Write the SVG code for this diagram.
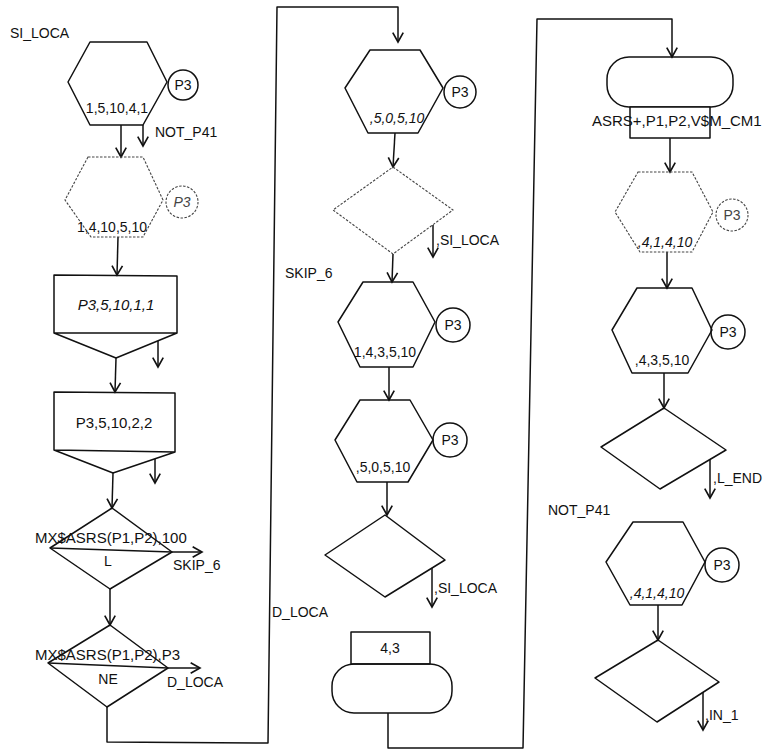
<svg xmlns="http://www.w3.org/2000/svg" width="772" height="754" viewBox="0 0 772 754">
<style>
  .s{fill:none;stroke:#111;stroke-width:1.5;stroke-linejoin:round}
  .d{fill:none;stroke:#444;stroke-width:1.1;stroke-dasharray:2.5 1.5}
  .w{fill:#fff}
  text{font-family:"Liberation Sans",Arial,sans-serif;font-size:14px;fill:#111}
  .m{text-anchor:middle}
  .i{font-style:italic}
  .g{fill:#444}
  .l{font-size:15px}
</style>
<defs>
  <marker id="a" markerUnits="userSpaceOnUse" markerWidth="14" markerHeight="14" refX="0" refY="0" viewBox="-10 -6 12 12" orient="auto">
    <path d="M-8,-4.5 L0,0 L-8,4.5" fill="none" stroke="#111" stroke-width="1.4"/>
  </marker>
</defs>
<rect width="772" height="754" fill="#fff"/>

<text x="10" y="38">SI_LOCA</text>
<text x="285" y="278">SKIP_6</text>
<text x="272" y="617">D_LOCA</text>
<text x="548" y="515">NOT_P41</text>

<g id="connectors" class="s" marker-end="url(#a)">
  <path d="M121,125 L121,157"/>
  <path d="M143,125 L143,146"/>
  <path d="M118,237 L117,275"/>
  <path d="M158,341 L158,367"/>
  <path d="M116,358 L115,392"/>
  <path d="M155,459 L155,483"/>
  <path d="M113,473 L112,508"/>
  <path d="M172,552 L202,552"/>
  <path d="M110,589 L110,625"/>
  <path d="M168,668 L200,668"/>
  <path d="M107,707 L107,742 L268,743 L277,7 L398,7 L398,42"/>
  <path d="M395,133 L393,167"/>
  <path d="M433,225 L433,257"/>
  <path d="M393,254 L392,282"/>
  <path d="M389,367 L389,400"/>
  <path d="M387,482 L387,515"/>
  <path d="M432,568 L432,607"/>
  <path d="M388,713 L388,748 L523,748 L537,19 L672,19 L672,57"/>
  <path d="M670,138 L670,172"/>
  <path d="M667,252 L667,288"/>
  <path d="M664,373 L664,408"/>
  <path d="M710,459 L710,498"/>
  <path d="M658,605 L658,640"/>
  <path d="M703,692 L703,730"/>
</g>
<g id="connector-labels">
  <text x="155" y="137">NOT_P41</text>
  <text x="173" y="570">SKIP_6</text>
  <text x="167" y="687">D_LOCA</text>
  <text x="436" y="245">,SI_LOCA</text>
  <text x="434" y="593">,SI_LOCA</text>
  <text x="713" y="483">,L_END</text>
  <text x="705" y="720">,IN_1</text>
</g>

<g id="hex1">
  <polygon class="s" points="90,42 147,42 167,82 143,125 90,125 68,82"/>
  <text class="m" x="117" y="113">1,5,10,4,1</text>
  <circle class="s" cx="183" cy="85" r="15"/>
  <text class="m" x="183" y="90">P3</text>
</g>
<g id="hex2">
  <polygon class="d" points="88,157 143,157 163,200 143,237 91,237 65,200"/>
  <text class="m" x="112" y="232">1,4,10,5,10</text>
  <circle class="d" cx="182" cy="202" r="16"/>
  <text class="m i g" x="182" y="207">P3</text>
</g>
<g id="box1">
  <path class="s" d="M54,275 L177,276 L177,333 L116,358 L54,333 Z M54,333 L177,333"/>
  <text class="m i l" x="116" y="310">P3,5,10,1,1</text>
</g>
<g id="box2">
  <path class="s" d="M54,392 L175,393 L175,452 L113,473 L54,450 Z M54,450 L175,452"/>
  <text class="m l" x="114" y="428">P3,5,10,2,2</text>
</g>
<g id="dec1">
  <polygon class="s" points="112,508 172,552 110,589 50,548"/>
  <path class="s" d="M50,548 L172,552"/>
  <text class="l" x="35" y="543">MX$ASRS(P1,P2),100</text>
  <text class="m" x="108" y="566">L</text>
</g>
<g id="dec2">
  <polygon class="s" points="110,625 168,668 107,707 48,663"/>
  <path class="s" d="M48,663 L168,668"/>
  <text class="l" x="35" y="660">MX$ASRS(P1,P2),P3</text>
  <text class="m" x="108" y="684">NE</text>
</g>

<g id="hex3">
  <polygon class="s" points="370,50 420,50 443,88 418,133 368,133 345,88"/>
  <text class="m i" x="397" y="123">,5,0,5,10</text>
  <circle class="s" cx="460" cy="92" r="16"/>
  <text class="m" x="460" y="97">P3</text>
</g>
<g id="dec3">
  <polygon class="d" points="393,167 453,210 393,254 333,210"/>
</g>
<g id="hex4">
  <polygon class="s" points="363,282 413,282 435,322 413,367 360,367 338,322"/>
  <text class="m" x="385" y="357">1,4,3,5,10</text>
  <circle class="s" cx="453" cy="325" r="17"/>
  <text class="m" x="453" y="330">P3</text>
</g>
<g id="hex5">
  <polygon class="s" points="360,400 410,400 433,440 408,482 357,482 335,440"/>
  <text class="m" x="383" y="472">,5,0,5,10</text>
  <circle class="s" cx="450" cy="440" r="17"/>
  <text class="m" x="450" y="445">P3</text>
</g>
<g id="dec4">
  <polygon class="s" points="385,515 445,560 385,597 325,555"/>
</g>
<g id="term1">
  <rect class="s" x="351" y="632" width="79" height="32"/>
  <text class="m" x="390" y="653">4,3</text>
  <rect class="s" x="332" y="664" width="120" height="49" rx="22" ry="22"/>
</g>

<g id="term2">
  <rect class="s" x="607" y="57" width="126" height="50" rx="22" ry="22"/>
  <rect class="s w" x="630" y="107" width="80" height="31"/>
  <text class="l" x="592" y="126">ASRS+,P1,P2,V$M_CM1</text>
</g>
<g id="hex6">
  <polygon class="d" points="638,172 692,172 713,212 692,252 640,252 615,212"/>
  <text class="m i" x="665" y="247">,4,1,4,10</text>
  <circle class="d" cx="732" cy="215" r="16"/>
  <text class="m g" x="732" y="220">P3</text>
</g>
<g id="hex7">
  <polygon class="s" points="637,288 692,288 712,330 688,373 632,373 612,330"/>
  <text class="m" x="662" y="365">,4,3,5,10</text>
  <circle class="s" cx="728" cy="332" r="17"/>
  <text class="m" x="728" y="337">P3</text>
</g>
<g id="dec5">
  <polygon class="s" points="664,408 726,450 660,489 601,447"/>
</g>
<g id="hex8">
  <polygon class="s" points="633,522 683,522 705,562 682,605 630,605 606,562"/>
  <text class="m i" x="657" y="598">,4,1,4,10</text>
  <circle class="s" cx="722" cy="565" r="17"/>
  <text class="m" x="722" y="570">P3</text>
</g>
<g id="dec6">
  <polygon class="s" points="658,640 719,682 657,722 595,678"/>
</g>
</svg>
